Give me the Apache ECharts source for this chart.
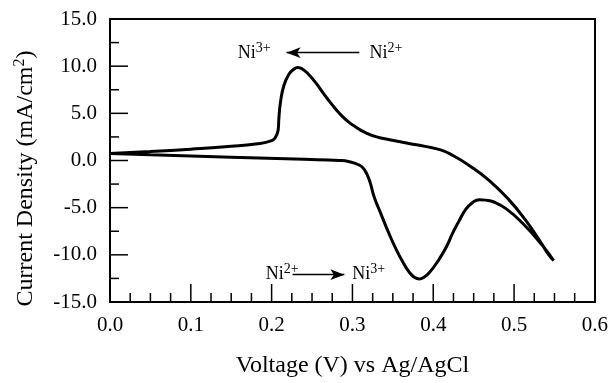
<!DOCTYPE html>
<html>
<head>
<meta charset="utf-8">
<script src="https://cdn.jsdelivr.net/npm/echarts@6/dist/echarts.min.js"></script>
<style>
  html, body { margin: 0; padding: 0; background: #fff; }
  #chart { width: 611px; height: 383px; }
</style>
</head>
<body>
<div id="chart"></div>
<script>
// cyclic voltammogram: anodic sweep 0 -> 0.55 V, then back
const forwardV = [0, 0.05, 0.1, 0.15, 0.18, 0.2, 0.205, 0.208, 0.209, 0.211, 0.215, 0.221, 0.227, 0.2325, 0.238, 0.245, 0.255, 0.265, 0.275, 0.285, 0.295, 0.305, 0.315, 0.33, 0.346, 0.37, 0.39, 0.41, 0.425, 0.444, 0.469, 0.494, 0.514, 0.531, 0.543, 0.549];
const forwardI = [0.75, 0.95, 1.2, 1.5, 1.75, 2.1, 2.5, 3.2, 4.5, 6.2, 7.9, 9.1, 9.65, 9.85, 9.7, 9.2, 8.2, 7.0, 5.9, 4.9, 4.1, 3.5, 3.0, 2.5, 2.2, 1.8, 1.5, 1.1, 0.5, -0.5, -2.1, -4.2, -6.3, -8.4, -10.0, -10.6];
const reverseV = [0.535, 0.51, 0.49, 0.475, 0.465, 0.457, 0.448, 0.44, 0.432, 0.424, 0.416, 0.407, 0.395, 0.388, 0.383, 0.377, 0.37, 0.362, 0.354, 0.345, 0.335, 0.327, 0.321, 0.315, 0.309, 0.295, 0.284, 0.24, 0.15, 0.05, 0];
const reverseI = [-9.0, -6.6, -5.1, -4.4, -4.2, -4.15, -4.5, -5.2, -6.4, -7.7, -9.2, -10.5, -11.9, -12.4, -12.55, -12.4, -11.8, -10.7, -9.4, -7.7, -5.6, -3.9, -2.1, -1.0, -0.5, -0.1, 0.0, 0.12, 0.35, 0.6, 0.75];

// annotations (data coords)
const labelPos = [[0.1784, 11.35], [0.3416, 11.35], [0.213, -12.08], [0.320, -12.08]];
const labelIon = [['Ni', '3+'], ['Ni', '2+'], ['Ni', '2+'], ['Ni', '3+']];
const arrowFrom = [[0.3086, 11.43], [0.2259, -12.1]];
const arrowTo = [[0.2185, 11.43], [0.290, -12.1]];

// inward tick marks
const xMajorTicks = [0.1, 0.2, 0.3, 0.4, 0.5];
const xMinorTicks = [0.025, 0.05, 0.075, 0.125, 0.15, 0.175, 0.225, 0.25, 0.275, 0.325, 0.35, 0.375, 0.425, 0.45, 0.475, 0.525, 0.55, 0.575];
const yMajorTicks = [-10, -5, 0, 5, 10];
const yMinorTicks = [-12.5, -7.5, -2.5, 2.5, 7.5, 12.5];

const curve = forwardV.map((v, i) => [v, forwardI[i]])
  .concat(reverseV.map((v, i) => [v, reverseI[i]]));

const tickData = [].concat(
  xMajorTicks.map(v => [0, v, 18]),
  xMinorTicks.map(v => [0, v, 9]),
  yMajorTicks.map(v => [1, v, 18]),
  yMinorTicks.map(v => [1, v, 9])
);

const serif = 'Liberation Serif';
const chart = echarts.init(document.getElementById('chart'), null, { renderer: 'canvas' });

// plain frame line on top/right
const frameAxis = (pos, min, max) => ({
  type: 'value', position: pos, min: min, max: max,
  axisLine: { show: true, onZero: false, lineStyle: { color: '#000', width: 2 } },
  axisTick: { show: false }, axisLabel: { show: false }, splitLine: { show: false }
});

const option = {
  animation: false,
  backgroundColor: '#fff',
  grid: { left: 110, right: 15, top: 19, bottom: 76 },
  xAxis: [
    {
      type: 'value', min: 0, max: 0.6, interval: 0.1, position: 'bottom',
      name: 'Voltage (V) vs Ag/AgCl', nameLocation: 'middle', nameGap: 52,
      nameTextStyle: { fontFamily: serif, fontSize: 24, color: '#000' },
      axisLine: { show: true, onZero: false, lineStyle: { color: '#000', width: 2 } },
      axisTick: { show: false },
      minorTick: { show: false },
      splitLine: { show: false },
      axisLabel: { fontFamily: serif, fontSize: 21, color: '#000', margin: 13, formatter: v => v.toFixed(1) }
    },
    frameAxis('top', 0, 0.6)
  ],
  yAxis: [
    {
      type: 'value', min: -15, max: 15, interval: 5, position: 'left',
      name: 'Current Density (mA/cm{s|2})', nameLocation: 'middle', nameGap: 70,
      nameTextStyle: {
        fontFamily: serif, fontSize: 24, color: '#000', padding: [0, 36, 0, 0],
        rich: { s: { fontFamily: serif, fontSize: 16, color: '#000', padding: [0, 0, 12, 0] } }
      },
      axisLine: { show: true, onZero: false, lineStyle: { color: '#000', width: 2 } },
      axisTick: { show: false },
      minorTick: { show: false },
      splitLine: { show: false },
      axisLabel: { fontFamily: serif, fontSize: 21, color: '#000', margin: 13, formatter: v => v.toFixed(1) }
    },
    frameAxis('right', -15, 15)
  ],
  series: [
    {
      type: 'line',
      data: curve,
      smooth: 0.5,
      symbol: 'none',
      lineStyle: { color: '#000', width: 3 },
      markLine: {
        silent: true,
        symbol: ['none', 'arrow'],
        symbolSize: [8, 14],
        label: { show: false },
        lineStyle: { color: '#000', width: 1.3, type: 'solid' },
        data: arrowFrom.map((p, i) => [{ coord: p }, { coord: arrowTo[i] }])
      }
    },
    {
      type: 'scatter',
      symbolSize: 0,
      itemStyle: { opacity: 1 },
      data: labelPos.map((p, i) => ({ value: p, ion: labelIon[i] })),
      label: {
        show: true,
        position: 'inside',
        color: '#000',
        opacity: 1,
        formatter: p => '{b|' + p.data.ion[0] + '}{s|' + p.data.ion[1] + '}',
        rich: {
          b: { fontFamily: serif, fontSize: 18, color: '#000' },
          s: { fontFamily: serif, fontSize: 14, color: '#000', padding: [0, 0, 10, 0] }
        }
      }
    },
    {
      // tick marks pointing into the plot, placed through the axis scales
      type: 'custom',
      silent: true,
      clip: false,
      z: 5,
      data: tickData,
      encode: { x: -1, y: -1 },
      renderItem: (params, api) => {
        const kind = api.value(0), v = api.value(1), len = api.value(2);
        if (kind === 0) {
          const p = api.coord([v, -15]);
          return { type: 'line', shape: { x1: p[0], y1: p[1], x2: p[0], y2: p[1] - len },
                   style: { stroke: '#000', lineWidth: 1.5 } };
        }
        const p = api.coord([0, v]);
        return { type: 'line', shape: { x1: p[0], y1: p[1], x2: p[0] + len, y2: p[1] },
                 style: { stroke: '#000', lineWidth: 1.5 } };
      }
    }
  ]
};

chart.setOption(option);
</script>
</body>
</html>
